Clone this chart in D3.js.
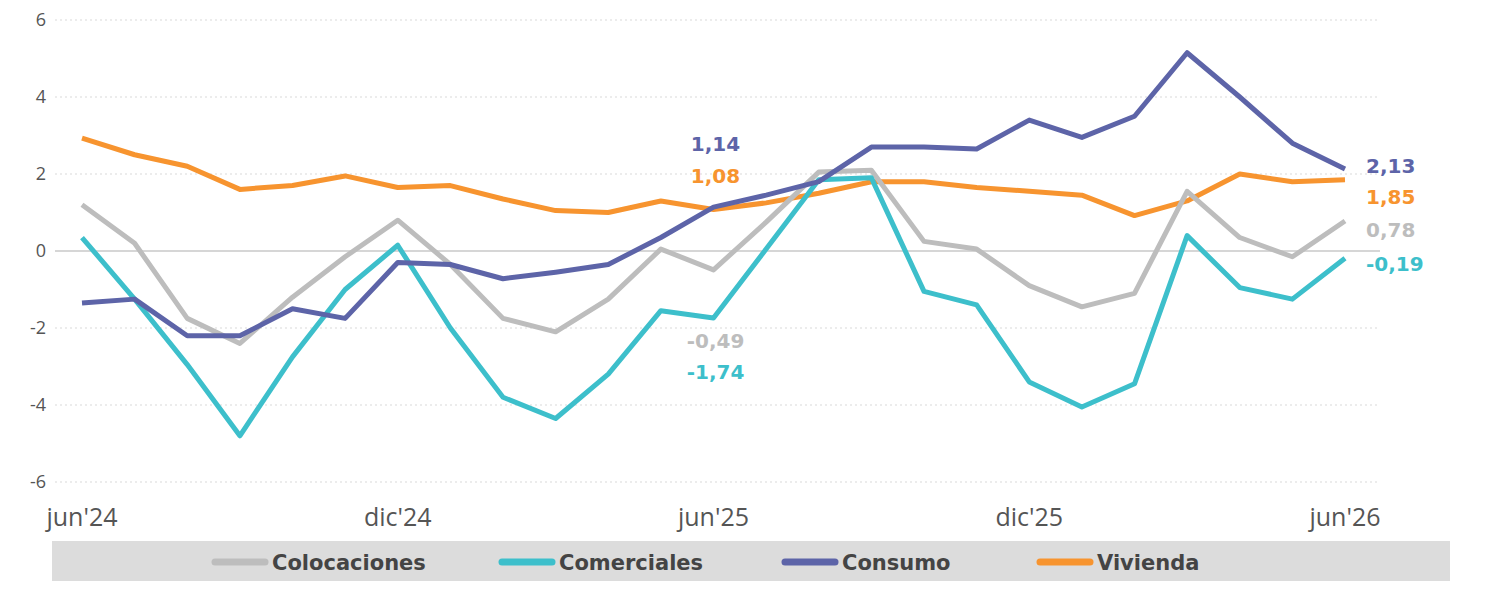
<!DOCTYPE html>
<html><head><meta charset="utf-8">
<script src="https://cdn.jsdelivr.net/npm/d3@7"></script>
<style>
body{margin:0;background:#fff;font-family:"Open Sans",sans-serif}
.lbl{font-family:"DejaVu Sans",sans-serif;font-weight:bold}
</style></head><body>
<svg id="c" width="1500" height="589"></svg>
<script>
// monthly, jun'24 .. jun'26
const months = d3.range(25)
const tickMonths = [0, 6, 12, 18, 24]
const tickLabels = ["jun'24", "dic'24", "jun'25", "dic'25", "jun'26"]
const yTicks = [-6, -4, -2, 0, 2, 4, 6]

const colocaciones = [1.2,0.2,-1.75,-2.4,-1.2,-0.15,0.8,-0.35,-1.75,-2.1,-1.25,0.05,-0.49,0.75,2.05,2.1,0.25,0.05,-0.9,-1.45,-1.1,1.55,0.35,-0.15,0.78]
const comerciales = [0.35,-1.25,-2.95,-4.8,-2.75,-1.0,0.15,-2.0,-3.8,-4.35,-3.2,-1.55,-1.74,0.05,1.85,1.9,-1.05,-1.4,-3.4,-4.05,-3.45,0.4,-0.95,-1.25,-0.19]
const consumo = [-1.35,-1.25,-2.2,-2.2,-1.5,-1.75,-0.3,-0.35,-0.72,-0.55,-0.35,0.35,1.14,1.45,1.8,2.7,2.7,2.65,3.4,2.95,3.5,5.15,4.0,2.8,2.13]
const vivienda = [2.93,2.5,2.2,1.6,1.7,1.95,1.65,1.7,1.35,1.05,1.0,1.3,1.08,1.25,1.5,1.8,1.8,1.65,1.55,1.45,0.92,1.3,2.0,1.8,1.85]

const seriesNames = ["Colocaciones", "Comerciales", "Consumo", "Vivienda"]
const seriesColors = ["#bdbdbd", "#3dbfcb", "#5d64a8", "#f7942f"]
const seriesData = [colocaciones, comerciales, consumo, vivienda]
const midLabelY = [340, 371, 143, 175]   // label centres near jun'25
const endLabelY = [229, 263, 165, 196]

const svg = d3.select('#c')
const x = d3.scaleLinear().domain([0, 24]).range([82, 1345])
const y = d3.scaleLinear().domain([-6, 6]).range([482, 20])

// grid
svg.append('g').selectAll('line').data(yTicks.filter(d => d !== 0)).enter().append('line')
    .attr('x1', 55).attr('x2', 1380)
    .attr('y1', d => y(d)).attr('y2', d => y(d))
    .attr('stroke', '#d9d9d9').attr('stroke-dasharray', '2,3')
svg.append('line').attr('x1', 55).attr('x2', 1380)
    .attr('y1', y(0)).attr('y2', y(0)).attr('stroke', '#c8c8c8').attr('stroke-width', 1.5)

svg.append('g').selectAll('text').data(yTicks).enter().append('text')
    .attr('x', 46).attr('y', d => y(d) + 6).attr('text-anchor', 'end')
    .attr('fill', '#555').style('font-size', '18px').text(d => d)

svg.append('g').selectAll('text').data(tickMonths).enter().append('text')
    .attr('x', d => x(d)).attr('y', 526).attr('text-anchor', 'middle')
    .attr('fill', '#555').style('font-size', '25px').text((d, i) => tickLabels[i])

const line = d3.line().x((d, i) => x(months[i])).y(d => y(d))
// draw order: vivienda, colocaciones, comerciales, consumo on top
;[3, 0, 1, 2].forEach(k => {
    svg.append('path').datum(seriesData[k]).attr('d', line)
        .attr('fill', 'none').attr('stroke', seriesColors[k])
        .attr('stroke-width', 5).attr('stroke-linejoin', 'round')
})

const fmt = v => d3.format('.2f')(v).replace('.', ',').replace('\u2212', '-')
seriesData.forEach((s, k) => {
    svg.append('text').attr('class', 'lbl').attr('x', x(12) + 2).attr('y', midLabelY[k] + 8)
        .attr('text-anchor', 'middle').attr('fill', seriesColors[k])
        .style('font-size', '20px').text(fmt(s[12]))
    svg.append('text').attr('class', 'lbl').attr('x', 1366).attr('y', endLabelY[k] + 8)
        .attr('fill', seriesColors[k]).style('font-size', '20px').text(fmt(s[24]))
})

// legend
svg.append('rect').attr('x', 52).attr('y', 541).attr('width', 1398).attr('height', 40).attr('fill', '#dcdcdc')
const legX = [215, 502, 785, 1040]
seriesNames.forEach((n, k) => {
    svg.append('line').attr('x1', legX[k]).attr('x2', legX[k] + 50)
        .attr('y1', 562).attr('y2', 562).attr('stroke', seriesColors[k])
        .attr('stroke-width', 7).attr('stroke-linecap', 'round')
    svg.append('text').attr('class', 'lbl').attr('x', legX[k] + 57).attr('y', 570)
        .attr('fill', '#444').style('font-size', '21px').text(n)
})
</script>
</body></html>
